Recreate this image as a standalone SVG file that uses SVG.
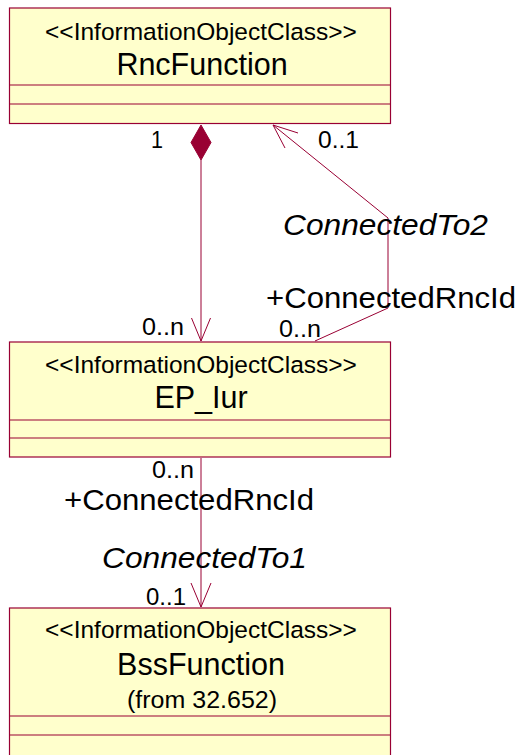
<svg xmlns="http://www.w3.org/2000/svg" width="520" height="755" viewBox="0 0 520 755">
<style>
.box{fill:#ffffcc;stroke:#990033;stroke-width:1.2}
.div{stroke:#990033;stroke-width:1.2}
.st{font-family:"Liberation Sans",Arial,sans-serif;font-size:24.5px;fill:#000;text-anchor:middle}
.nm{font-family:"Liberation Sans",Arial,sans-serif;font-size:30.5px;fill:#000;text-anchor:middle}
.fr{font-family:"Liberation Sans",Arial,sans-serif;font-size:23px;fill:#000;text-anchor:middle}
.lb{font-family:"Liberation Sans",Arial,sans-serif;font-size:29px;fill:#000}
.it{font-family:"Liberation Sans",Arial,sans-serif;font-size:29px;font-style:italic;fill:#000}
.mu{font-family:"Liberation Sans",Arial,sans-serif;font-size:23px;fill:#000}
.ln{fill:none;stroke:#990033;stroke-width:1}
</style>
<rect width="520" height="755" fill="#ffffff"/>
<g id="RncFunction">
<rect class="box" x="9.5" y="8" width="381" height="115.5"/>
<line class="div" x1="9.5" y1="85" x2="390.5" y2="85"/>
<line class="div" x1="9.5" y1="104" x2="390.5" y2="104"/>
<text class="st" x="201" y="40">&lt;&lt;InformationObjectClass&gt;&gt;</text>
<text class="nm" x="202" y="75">RncFunction</text>
</g>
<g id="EP_Iur">
<rect class="box" x="9.5" y="342" width="381" height="115"/>
<line class="div" x1="9.5" y1="420" x2="390.5" y2="420"/>
<line class="div" x1="9.5" y1="438" x2="390.5" y2="438"/>
<text class="st" x="201" y="373">&lt;&lt;InformationObjectClass&gt;&gt;</text>
<text class="nm" x="201" y="408">EP_Iur</text>
</g>
<g id="BssFunction">
<rect class="box" x="9.5" y="608" width="381" height="160"/>
<line class="div" x1="9.5" y1="716" x2="390.5" y2="716"/>
<line class="div" x1="9.5" y1="735" x2="390.5" y2="735"/>
<text class="st" x="201" y="638">&lt;&lt;InformationObjectClass&gt;&gt;</text>
<text class="nm" x="201" y="675">BssFunction</text>
<text class="fr" x="202" y="708" textLength="150" lengthAdjust="spacingAndGlyphs">(from 32.652)</text>
</g>
<g id="connectors">
<line class="ln" x1="201" y1="160" x2="201" y2="341"/>
<polygon points="201,125 211,142.5 201,160 191,142.5" fill="#990033" stroke="#990033"/>
<polyline class="ln" points="191.5,318 201,341 210.5,318"/>
<polyline class="ln" points="315,341 388,308 388,218 273,125"/>
<polyline class="ln" points="298,133 273,125 285,148"/>
<line class="ln" x1="201" y1="458" x2="201" y2="607"/>
<polyline class="ln" points="191,583 201,607 211,583"/>
</g>
<g id="labels">
<text class="mu" x="151" y="148" textLength="12" lengthAdjust="spacingAndGlyphs">1</text>
<text class="mu" x="318" y="148" textLength="41" lengthAdjust="spacingAndGlyphs">0..1</text>
<text class="mu" x="142" y="335" textLength="42" lengthAdjust="spacingAndGlyphs">0..n</text>
<text class="mu" x="279" y="337" textLength="42" lengthAdjust="spacingAndGlyphs">0..n</text>
<text class="mu" x="152" y="478" textLength="42" lengthAdjust="spacingAndGlyphs">0..n</text>
<text class="mu" x="146" y="605" textLength="40" lengthAdjust="spacingAndGlyphs">0..1</text>
<text class="it" x="283" y="235" textLength="205" lengthAdjust="spacingAndGlyphs">ConnectedTo2</text>
<text class="lb" x="266" y="308" textLength="250" lengthAdjust="spacingAndGlyphs">+ConnectedRncId</text>
<text class="lb" x="64" y="510" textLength="250" lengthAdjust="spacingAndGlyphs">+ConnectedRncId</text>
<text class="it" x="102" y="568" textLength="205" lengthAdjust="spacingAndGlyphs">ConnectedTo1</text>
</g>
</svg>
